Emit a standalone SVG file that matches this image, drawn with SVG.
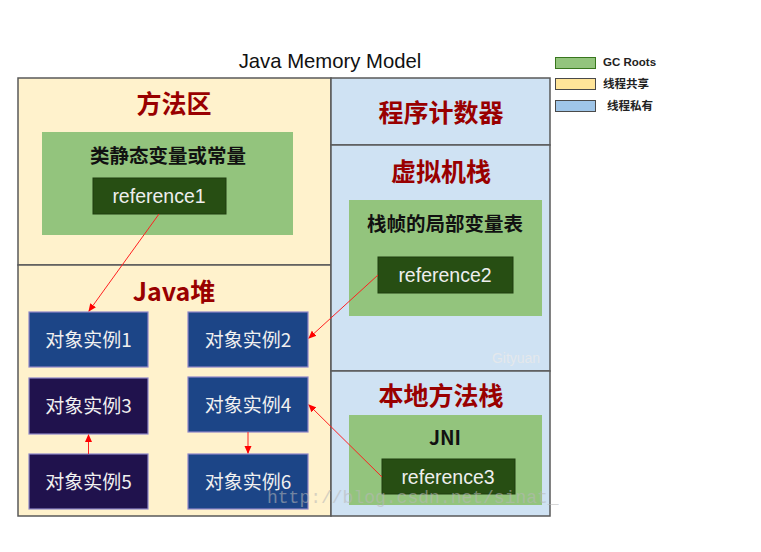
<svg xmlns="http://www.w3.org/2000/svg" width="761" height="552" viewBox="0 0 761 552">
<defs>
<marker id="ah" markerWidth="8" markerHeight="8" refX="7" refY="4" orient="auto" markerUnits="userSpaceOnUse">
<path d="M0,0.5 L8,4 L0,7.5 Z" fill="#ff0000"/>
</marker>
<style>
.area{stroke:#595959;stroke-width:1.5;}
.yel{fill:#fff2cc;}
.blu{fill:#cfe2f3;}
.title{font-family:"Noto Sans CJK SC","Liberation Sans",sans-serif;font-weight:bold;font-size:25px;fill:#990000;text-anchor:middle;}
.grn{fill:#93c47d;}
.sub{font-family:"Noto Sans CJK SC","Liberation Sans",sans-serif;font-weight:bold;font-size:19.5px;fill:#111;text-anchor:middle;}
.ref{fill:#274e13;stroke:#1e3d0f;stroke-width:1;}
.reft{font-family:"Liberation Sans",Arial,sans-serif;font-size:19.5px;fill:#eeeeee;text-anchor:middle;}
.obj{stroke:#8e86c8;stroke-width:1.2;}
.objA{fill:#1c4587;}
.objB{fill:#20124d;}
.objt{font-family:"Noto Sans CJK SC","Liberation Sans",sans-serif;font-size:19px;fill:#f0f0f0;text-anchor:middle;}
.conn{stroke:#ff2020;stroke-width:1;fill:none;marker-end:url(#ah);}
.leg{font-family:"Liberation Sans","Noto Sans CJK SC",sans-serif;font-weight:bold;font-size:11.5px;fill:#222;}
.wm{font-family:"Liberation Mono",monospace;font-size:18px;fill:#b8b8b8;opacity:0.55;}
</style>
</defs>
<rect x="0" y="0" width="761" height="552" fill="#ffffff"/>
<text x="330" y="68" font-family="Liberation Sans, Arial, sans-serif" font-size="20.3" fill="#111" text-anchor="middle">Java Memory Model</text>

<g id="legend">
<rect x="555.5" y="57.5" width="40" height="11" fill="#93c47d" stroke="#38761d"/>
<text class="leg" x="603" y="66">GC Roots</text>
<rect x="555.5" y="78.5" width="40" height="11" fill="#ffe599" stroke="#4a4a4a"/>
<text class="leg" x="603" y="88">线程共享</text>
<rect x="555.5" y="100.5" width="40" height="11" fill="#9fc5e8" stroke="#4a4a4a"/>
<text class="leg" x="607" y="110">线程私有</text>
</g>

<g id="method-area">
<rect class="area yel" x="18" y="78" width="313" height="187"/>
<text class="title" x="174" y="113">方法区</text>
</g>
<g id="static-vars">
<rect class="grn" x="42" y="132" width="251" height="103"/>
<text class="sub" x="168" y="163">类静态变量或常量</text>
</g>
<g id="reference1">
<rect class="ref" x="93" y="178" width="133" height="36"/>
<text class="reft" x="159" y="203">reference1</text>
</g>

<g id="java-heap">
<rect class="area yel" x="18" y="265" width="313" height="251"/>
<text class="title" x="174" y="301">Java堆</text>
</g>
<g id="obj1"><rect class="obj objA" x="29" y="312" width="119" height="55"/><text class="objt" x="88.5" y="347">对象实例1</text></g>
<g id="obj2"><rect class="obj objA" x="188" y="312" width="120" height="55"/><text class="objt" x="248" y="347">对象实例2</text></g>
<g id="obj3"><rect class="obj objB" x="29" y="378" width="119" height="56"/><text class="objt" x="88.5" y="413">对象实例3</text></g>
<g id="obj4"><rect class="obj objA" x="188" y="377" width="120" height="55"/><text class="objt" x="248" y="412">对象实例4</text></g>
<g id="obj5"><rect class="obj objB" x="29" y="454" width="119" height="55"/><text class="objt" x="88.5" y="489">对象实例5</text></g>
<g id="obj6"><rect class="obj objA" x="188" y="454" width="120" height="55"/><text class="objt" x="248" y="489">对象实例6</text></g>

<g id="pc-register">
<rect class="area blu" x="331" y="78" width="219" height="67"/>
<text class="title" x="441" y="122">程序计数器</text>
</g>
<g id="vm-stack">
<rect class="area blu" x="331" y="145" width="219" height="226"/>
<text class="title" x="441" y="181">虚拟机栈</text>
</g>
<g id="local-vars">
<rect class="grn" x="349" y="200" width="193" height="116"/>
<text class="sub" x="445" y="231">栈帧的局部变量表</text>
</g>
<g id="reference2">
<rect class="ref" x="378" y="257" width="135" height="36"/>
<text class="reft" x="445" y="282">reference2</text>
</g>
<text x="516" y="363" font-family="Liberation Sans, Arial, sans-serif" font-size="14" fill="#e4e8ec" text-anchor="middle">Gityuan</text>

<g id="native-stack">
<rect class="area blu" x="331" y="371" width="219" height="145"/>
<text class="title" x="441" y="405">本地方法栈</text>
</g>
<g id="jni">
<rect class="grn" x="349" y="415" width="193" height="90"/>
<text class="sub" x="445" y="445">JNI</text>
</g>
<g id="reference3">
<rect class="ref" x="382" y="459" width="133" height="35"/>
<text class="reft" x="448" y="484">reference3</text>
</g>

<g id="connectors">
<line class="conn" x1="159" y1="214" x2="89" y2="311"/>
<line class="conn" x1="378" y1="275" x2="309" y2="338"/>
<line class="conn" x1="382" y1="477" x2="309" y2="405"/>
<line class="conn" x1="88.5" y1="454" x2="88.5" y2="435"/>
<line class="conn" x1="248" y1="432" x2="248" y2="453"/>
</g>

<text class="wm" x="267" y="503">http://blog.csdn.net/sinat_</text>
</svg>
